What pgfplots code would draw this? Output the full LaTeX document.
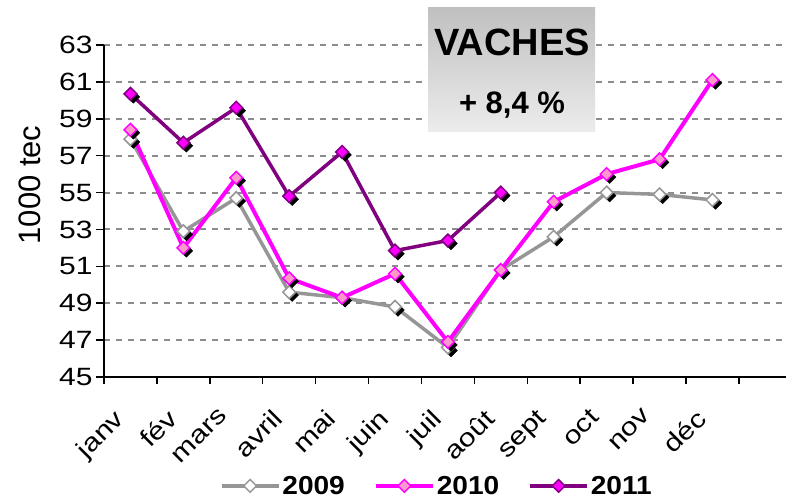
\documentclass[border=0pt]{standalone}
\usepackage{fontspec}
\setmainfont{Liberation Sans}
\newfontfamily\tickfont[FakeStretch=1.2]{Liberation Sans}
\newfontfamily\legfont[FakeStretch=1.08]{Liberation Sans}
\usepackage{pgfplots}
\usepackage{pgfplotstable}
\pgfplotsset{compat=1.18}
\usetikzlibrary{calc}
\definecolor{g09}{RGB}{150,150,150}
\definecolor{m10}{RGB}{255,0,255}
\definecolor{p10}{RGB}{255,153,204}
\definecolor{p11}{RGB}{128,0,128}
\definecolor{gridc}{RGB}{140,140,140}
\definecolor{boxtop}{RGB}{192,192,192}
\definecolor{boxbot}{RGB}{236,236,236}
\pgfplotstableread{
x y
0.5 57.9
1.5 52.9
2.5 54.7
3.5 49.6
4.5 49.3
5.5 48.8
6.5 46.6
7.5 50.8
8.5 52.6
9.5 55.0
10.5 54.9
11.5 54.6
}\dataA
\pgfplotstableread{
x y
0.5 58.4
1.5 52.0
2.5 55.8
3.5 50.35
4.5 49.3
5.5 50.6
6.5 46.9
7.5 50.8
8.5 54.5
9.5 56.0
10.5 56.8
11.5 61.1
}\dataB
\pgfplotstableread{
x y
0.5 60.35
1.5 57.7
2.5 59.6
3.5 54.8
4.5 57.2
5.5 51.85
6.5 52.4
7.5 55.0
}\dataC
\begin{document}
\begin{tikzpicture}
\begin{axis}[name=ax,
  scale only axis, width=682pt, height=332pt,
  xmin=0, xmax=12.89, ymin=45, ymax=63,
  axis x line*=bottom, axis y line*=left,
  axis line style={line width=1.8pt, -},
  ytick={45,47,...,63},
  xtick={0.5,1.5,...,11.5},
  xticklabels={janv,fév,mars,avril,mai,juin,juil,août,sept,oct,nov,déc},
  minor xtick={0,1,...,12},
  major x tick style={draw=none},
  minor x tick style={black, line width=1.5pt},
  minor tick length=7pt,
  major tick length=8pt,
  y tick style={black, line width=1.5pt},
  tick align=outside,
  ymajorgrids,
  y grid style={gridc, line width=2pt, dash pattern=on 6pt off 6pt},
  /pgf/number format/assume math mode=true,
  ticklabel style={font=\fontsize{25}{30}\tickfont},
  xticklabel style={rotate=45, anchor=north east, yshift=0pt, xshift=-25pt},
  legend columns=3,
  legend style={at={(axis description cs:0.488,-0.328)}, anchor=center, draw=none, fill=none,
    font=\fontsize{26}{30}\legfont\bfseries,
    /tikz/every even column/.append style={column sep=27pt}},
  legend image code/.code={\draw[mark repeat=2,mark phase=2,#1] plot coordinates {(0pt,0pt) (28.5pt,0pt) (57pt,0pt)};},
]
\addplot[forget plot, only marks, mark=square*, mark size=4.5pt, mark options={xshift=3pt,yshift=-3pt,rotate=45,fill=black,draw=black}] table {\dataA};
\addplot[g09, line width=3.5pt, mark=square*, mark size=4.5pt, mark options={rotate=45, fill=white, draw=g09, line width=1.5pt}] table {\dataA};
\addlegendentry{2009}
\addplot[forget plot, only marks, mark=square*, mark size=4.5pt, mark options={xshift=3pt,yshift=-3pt,rotate=45,fill=black,draw=black}] table {\dataB};
\addplot[m10, line width=4pt, mark=square*, mark size=4.5pt, mark options={rotate=45, fill=p10, draw=m10, line width=1.5pt}] table {\dataB};
\addlegendentry{2010}
\addplot[forget plot, only marks, mark=square*, mark size=4.5pt, mark options={xshift=3pt,yshift=-3pt,rotate=45,fill=black,draw=black}] table {\dataC};
\addplot[p11, line width=3.5pt, mark=square*, mark size=4.5pt, mark options={rotate=45, fill=m10, draw=p11, line width=1.5pt}] table {\dataC};
\addlegendentry{2011}
\end{axis}
\shade[top color=boxtop, bottom color=boxbot] ($(ax.south west)+(324pt,245pt)$) rectangle ($(ax.south west)+(491pt,369pt)$);
\node[font=\fontsize{38}{44}\selectfont\bfseries] at ($(ax.south west)+(408pt,335pt)$) {VACHES};
\node[font=\fontsize{31}{36}\selectfont\bfseries] at ($(ax.south west)+(408pt,272pt)$) {+ 8,4 \%};
\node[rotate=90, font=\fontsize{31}{36}\selectfont] at ($(ax.south west)+(-74pt,192pt)$) {1000 tec};
\pgfresetboundingbox
\path ($(ax.south west)+(-104pt,-125pt)$) rectangle ($(ax.south west)+(683pt,377pt)$);
\end{tikzpicture}
\end{document}
